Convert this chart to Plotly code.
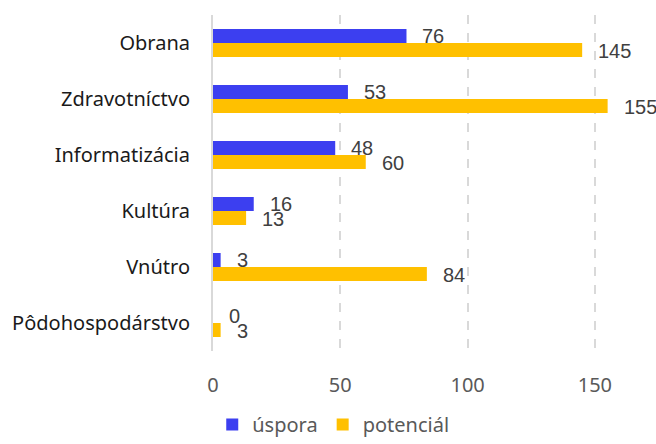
import plotly.graph_objects as go

categories = ["Obrana", "Zdravotníctvo", "Informatizácia", "Kultúra", "Vnútro", "Pôdohospodárstvo"]
uspora = [76, 53, 48, 16, 3, 0]
potencial = [145, 155, 60, 13, 84, 3]
series_names = ["úspora", "potenciál"]
x_ticks = [0, 50, 100, 150]

BLUE = "#3c3ff0"
YELLOW = "#ffc000"
CAT_FONT = "Noto Sans"
VAL_FONT = "Liberation Sans"

fig = go.Figure()
fig.add_trace(go.Bar(y=categories, x=uspora, name=series_names[0], orientation="h",
                     marker=dict(color=BLUE, line=dict(width=0))))
fig.add_trace(go.Bar(y=categories, x=potencial, name=series_names[1], orientation="h",
                     marker=dict(color=YELLOW, line=dict(width=0))))

annotations = []
for vals, ys in ((uspora, 7.5), (potencial, -7.5)):
    for c, v in zip(categories, vals):
        annotations.append(dict(x=v, y=c, xref="x", yref="y", text=str(v), showarrow=False,
                                xanchor="left", yanchor="middle", xshift=14, yshift=ys,
                                font=dict(family=VAL_FONT, size=20, color="#404040")))

fig.update_layout(
    width=656, height=444,
    margin=dict(l=213, r=0, t=15, b=93, autoexpand=False),
    paper_bgcolor="white", plot_bgcolor="white",
    barmode="group", bargap=0.5, bargroupgap=0,
    annotations=annotations,
    showlegend=True,
    legend=dict(orientation="h", xref="container", yref="container",
                x=0.508, xanchor="center", y=0.0, yanchor="bottom",
                font=dict(family=CAT_FONT, size=20, color="#595959"),
                itemwidth=30, traceorder="normal"),
    xaxis=dict(range=[0, 174], tickvals=x_ticks, showgrid=True, gridcolor="#d9d9d9",
               griddash="dash", gridwidth=1.5, zeroline=False, showline=False,
               tickfont=dict(family=CAT_FONT, size=20, color="#595959"),
               ticklabelstandoff=20, fixedrange=True, automargin=False),
    yaxis=dict(autorange="reversed", showline=True, linecolor="#d9d9d9", linewidth=2,
               tickfont=dict(family=CAT_FONT, size=20, color="#1a1a1a"),
               ticklabelstandoff=17, showgrid=False, zeroline=False, automargin=False),
)

fig.write_html("out.html")
